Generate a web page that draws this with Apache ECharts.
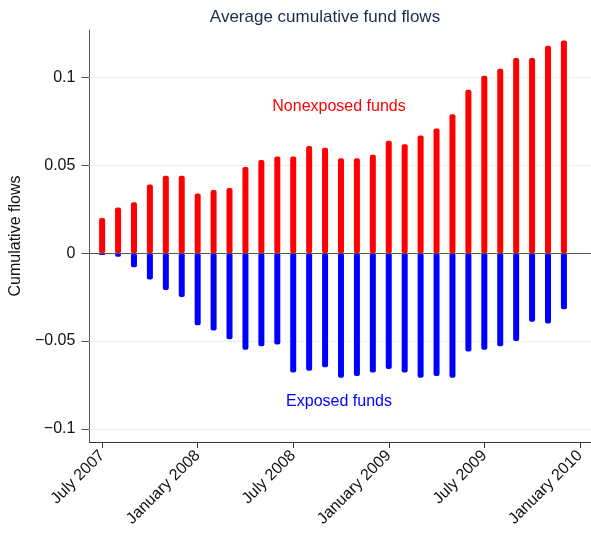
<!DOCTYPE html>
<html>
<head>
<meta charset="utf-8">
<script src="https://cdn.jsdelivr.net/npm/echarts@6/dist/echarts.min.js"></script>
<style>html,body{margin:0;padding:0;background:#fff;}#c{width:591px;height:533px;}</style>
</head>
<body>
<div id="c"></div>
<script>
// Months since July 2007 (0 = July 2007 ... 29 = December 2009)
var months = [0,1,2,3,4,5,6,7,8,9,10,11,12,13,14,15,16,17,18,19,20,21,22,23,24,25,26,27,28,29];
var nonexposed = [0.020,0.026,0.029,0.039,0.044,0.044,0.034,0.036,0.037,0.049,0.053,0.055,0.055,0.061,0.060,
                  0.054,0.054,0.056,0.064,0.062,0.067,0.071,0.079,0.093,0.101,0.105,0.111,0.111,0.118,0.121];
var exposed = [-0.001,-0.002,-0.008,-0.015,-0.021,-0.025,-0.041,-0.044,-0.049,-0.055,-0.053,-0.052,-0.068,-0.067,-0.065,
               -0.071,-0.070,-0.068,-0.066,-0.068,-0.071,-0.070,-0.071,-0.056,-0.055,-0.053,-0.050,-0.039,-0.040,-0.032];
var xTickValues = [0,6,12,18,24,30];
var xTickLabels = ["July 2007","January 2008","July 2008","January 2009","July 2009","January 2010"];
var yTickValues = [-0.1,-0.05,0,0.05,0.1];
var yTickLabels = ["\u22120.1","\u22120.05","0","0.05","0.1"];

var font = 'Liberation Sans, Arial, sans-serif';
var chart = echarts.init(document.getElementById('c'), null, {renderer:'canvas'});
function pairs(xs, ys){ return xs.map(function(x,i){ return [x, ys[i]]; }); }
chart.setOption({
  animation:false,
  backgroundColor:'#ffffff',
  grid:{left:86, right:0, top:30, bottom:91, containLabel:false},
  xAxis:{
    type:'value', min:-0.8, max:30.7,
    axisLine:{show:true, onZero:false, lineStyle:{color:'#333', width:1}},
    axisTick:{show:true, customValues:xTickValues, length:6, lineStyle:{color:'#333'}},
    axisLabel:{show:true, customValues:xTickValues, rotate:45, margin:11,
      fontFamily:font, fontSize:16, color:'#111',
      formatter:function(v){ var i = xTickValues.indexOf(Math.round(v)); return i>=0 ? xTickLabels[i] : ''; }},
    splitLine:{show:false}
  },
  yAxis:{
    type:'value', min:-0.1075, max:0.127,
    name:'Cumulative flows', nameLocation:'middle', nameGap:58,
    nameTextStyle:{fontFamily:font, fontSize:16, color:'#111'},
    axisLine:{show:true, onZero:false, lineStyle:{color:'#555', width:1}},
    axisTick:{show:true, customValues:yTickValues, length:8, lineStyle:{color:'#555'}},
    axisLabel:{show:true, customValues:yTickValues, margin:14, fontFamily:font, fontSize:16, color:'#111',
      formatter:function(v){ var i=-1; yTickValues.forEach(function(t,k){ if(Math.abs(t-v)<1e-9) i=k; }); return i>=0 ? yTickLabels[i] : ''; }},
    splitLine:{show:false}
  },
  series:[
    {
      type:'bar', name:'Exposed funds', data:pairs(months, exposed),
      barWidth:6, barGap:'-100%', z:2,
      itemStyle:{color:'#0000ff', borderRadius:2},
      markLine:{
        silent:true, symbol:'none', label:{show:false}, z:1,
        lineStyle:{color:'#e8f0f2', width:1, type:'solid'},
        data:yTickValues.filter(function(v){return v!==0;}).map(function(v){ return {yAxis:v}; })
      }
    },
    {
      type:'bar', name:'Nonexposed funds', data:pairs(months, nonexposed),
      barWidth:6, barGap:'-100%', z:3,
      itemStyle:{color:'#ff0000', borderRadius:2},
      markLine:{
        silent:true, symbol:'none', label:{show:false}, z:5,
        lineStyle:{color:'#555', width:1, type:'solid'},
        data:[{yAxis:0}]
      }
    }
  ],
  graphic:[
    {type:'text', x:325, y:17, style:{text:'Average cumulative fund flows', fontFamily:font, fontSize:17, fill:'#1c2a4e', align:'center', verticalAlign:'middle'}},
    {type:'text', x:339, y:107, style:{text:'Nonexposed funds', fontFamily:font, fontSize:16, fill:'#ff0000', align:'center', verticalAlign:'middle'}},
    {type:'text', x:339, y:402, style:{text:'Exposed funds', fontFamily:font, fontSize:16, fill:'#0000ff', align:'center', verticalAlign:'middle'}}
  ]
});
</script>
</body>
</html>
